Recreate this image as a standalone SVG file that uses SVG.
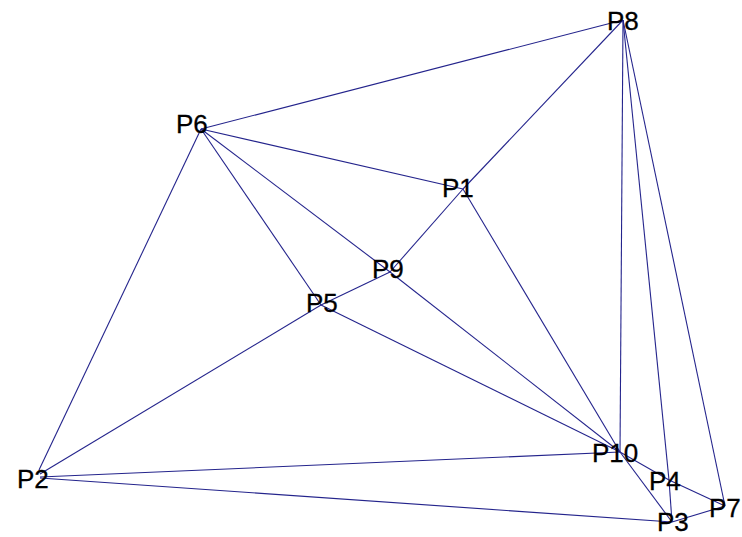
<svg xmlns="http://www.w3.org/2000/svg" width="742" height="537" viewBox="0 0 742 537">
  <style>
    .edge { stroke: #24248c; stroke-width: 1.1; fill: none; }
    .lbl { font-family: "Liberation Sans", Arial, sans-serif; font-size: 26px; fill: #000; stroke: #000; stroke-width: 0.3; }
  </style>
  <rect width="742" height="537" fill="#ffffff"/>
  <g id="connectors">
    <line class="edge" x1="201" y1="129" x2="623" y2="20"/>
    <line class="edge" x1="201" y1="129" x2="463" y2="189"/>
    <line class="edge" x1="201" y1="129" x2="390" y2="272"/>
    <line class="edge" x1="201" y1="129" x2="321" y2="305"/>
    <line class="edge" x1="201" y1="129" x2="39" y2="470"/>
    <line class="edge" x1="623" y1="20" x2="463" y2="189"/>
    <line class="edge" x1="623" y1="20" x2="620" y2="452"/>
    <line class="edge" x1="623" y1="20" x2="669" y2="480"/>
    <line class="edge" x1="623" y1="20" x2="725" y2="506"/>
    <line class="edge" x1="463" y1="189" x2="390" y2="272"/>
    <line class="edge" x1="463" y1="189" x2="620" y2="452"/>
    <line class="edge" x1="390" y1="272" x2="321" y2="305"/>
    <line class="edge" x1="390" y1="272" x2="620" y2="452"/>
    <line class="edge" x1="321" y1="305" x2="40" y2="474"/>
    <line class="edge" x1="321" y1="305" x2="620" y2="452"/>
    <line class="edge" x1="40" y1="477" x2="620" y2="452"/>
    <line class="edge" x1="40" y1="478" x2="672" y2="522"/>
    <line class="edge" x1="620" y1="452" x2="669" y2="480"/>
    <line class="edge" x1="620" y1="452" x2="672" y2="522"/>
    <line class="edge" x1="669" y1="480" x2="725" y2="506"/>
    <line class="edge" x1="669" y1="480" x2="672" y2="522"/>
    <line class="edge" x1="725" y1="506" x2="672" y2="522"/>
  </g>
  <g id="P8"><text class="lbl" x="607" y="30">P8</text></g>
  <g id="P6"><text class="lbl" x="176" y="133">P6</text></g>
  <g id="P1"><text class="lbl" x="442" y="197">P1</text></g>
  <g id="P9"><text class="lbl" x="372" y="278">P9</text></g>
  <g id="P5"><text class="lbl" x="306" y="312">P5</text></g>
  <g id="P2"><text class="lbl" x="17" y="488">P2</text></g>
  <g id="P10"><text class="lbl" x="592" y="462">P10</text></g>
  <g id="P4"><text class="lbl" x="649" y="490">P4</text></g>
  <g id="P7"><text class="lbl" x="709" y="517">P7</text></g>
  <g id="P3"><text class="lbl" x="657" y="531">P3</text></g>
</svg>
